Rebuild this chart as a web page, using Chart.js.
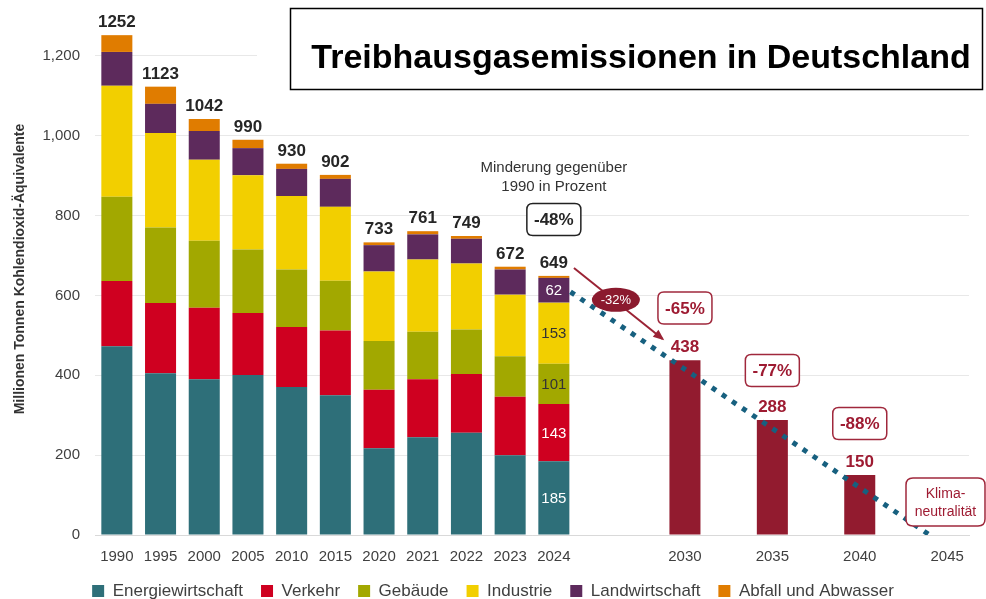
<!DOCTYPE html>
<html>
<head>
<meta charset="utf-8">
<script src="https://cdn.jsdelivr.net/npm/chart.js@4.4.1/dist/chart.umd.min.js"></script>
<style>
  html, body { margin: 0; padding: 0; background: #ffffff; }
  #wrap { width: 986px; height: 599px; position: relative; }
</style>
</head>
<body>
<div id="wrap"><canvas id="c" width="986" height="599"></canvas></div>
<script>
// ---- Data ----
const categories = ['1990','1995','2000','2005','2010','2015','2020','2021','2022','2023','2024','','','2030','','2035','','2040','','2045'];
const energiewirtschaft = [473, 405, 390, 401, 371, 350, 217, 245, 256, 200, 185];
const verkehr           = [163, 176, 179, 155, 150, 162, 147, 145, 147, 146, 143];
const gebaeude          = [211, 189, 168, 159, 144, 125, 122, 119, 112, 102, 101];
const industrie         = [278, 237, 203, 186, 184, 185, 174, 181, 165, 154, 153];
const landwirtschaft    = [ 85,  73,  72,  68,  68,  70,  66,  63,  62,  63,  62];
const abfall            = [ 42,  43,  30,  21,  13,  10,   7,   8,   7,   7,   5];
const zielwerte         = [null,null,null,null,null,null,null,null,null,null,null,null,null,438,null,288,null,150,null,null];
const pfad              = [{x: 10.38, y: 609}, {x: 18.6, y: 0}];
const minderung         = {'2024': '-48%', '2030': '-65%', '2035': '-77%', '2040': '-88%'};
const yTicks            = [0, 200, 400, 600, 800, 1000, 1200];

const FONT = '"Liberation Sans", Arial, sans-serif';
const pad = arr => categories.map((_, i) => (i < arr.length ? arr[i] : null));

const colors = {
  energie: '#2e6f79', verkehr: '#cf0020', gebaeude: '#a2a800',
  industrie: '#f2cf00', landw: '#5d2a5c', abfall: '#e07c00',
  ziel: '#921b2f', pfad: '#17607f', annot: '#9e1b32'
};

const sectors = [
  {label: 'Energiewirtschaft', data: energiewirtschaft, color: colors.energie, txt: '#ffffff'},
  {label: 'Verkehr', data: verkehr, color: colors.verkehr, txt: '#ffffff'},
  {label: 'Gebäude', data: gebaeude, color: colors.gebaeude, txt: '#333333'},
  {label: 'Industrie', data: industrie, color: colors.industrie, txt: '#333333'},
  {label: 'Landwirtschaft', data: landwirtschaft, color: colors.landw, txt: '#ffffff'},
  {label: 'Abfall und Abwasser', data: abfall, color: colors.abfall, txt: null}
];

const barOpts = { stack: 's', order: 1, barPercentage: 0.71, categoryPercentage: 1.0, grouped: false };
const datasets = sectors.map(s => Object.assign({
  type: 'bar', label: s.label, data: pad(s.data), backgroundColor: s.color
}, barOpts));
datasets.push(Object.assign({
  type: 'bar', label: 'Ziel', data: zielwerte, backgroundColor: colors.ziel
}, barOpts));
datasets.push({
  type: 'line', label: 'Pfad', data: pfad, xAxisID: 'xl', yAxisID: 'y',
  borderColor: colors.pfad, borderWidth: 5, borderDash: [5, 7.2], borderCapStyle: 'butt',
  pointRadius: 0, fill: false, order: 0, tension: 0
});

function roundRect(ctx, x, y, w, h, r) {
  ctx.beginPath();
  ctx.moveTo(x + r, y);
  ctx.lineTo(x + w - r, y); ctx.quadraticCurveTo(x + w, y, x + w, y + r);
  ctx.lineTo(x + w, y + h - r); ctx.quadraticCurveTo(x + w, y + h, x + w - r, y + h);
  ctx.lineTo(x + r, y + h); ctx.quadraticCurveTo(x, y + h, x, y + h - r);
  ctx.lineTo(x, y + r); ctx.quadraticCurveTo(x, y, x + r, y);
  ctx.closePath();
}

const annotPlugin = {
  id: 'annot',
  afterDraw(chart) {
    const ctx = chart.ctx;
    const xs = chart.scales.xl, ys = chart.scales.y;
    const px = i => xs.getPixelForValue(i);
    const py = v => ys.getPixelForValue(v);
    ctx.save();

    // white area behind the title (hides the 1200 gridline as in the reference)
    ctx.fillStyle = '#ffffff';
    ctx.fillRect(257, 0, 729, 94);
    // title box
    ctx.strokeStyle = '#000000'; ctx.lineWidth = 1.5;
    ctx.strokeRect(290.5, 8.5, 692, 81);
    ctx.fillStyle = '#000000';
    ctx.font = 'bold 34px ' + FONT;
    ctx.textAlign = 'center'; ctx.textBaseline = 'alphabetic';
    ctx.fillText('Treibhausgasemissionen in Deutschland', 641, 68);

    // y-axis title
    ctx.save();
    ctx.translate(20, 269);
    ctx.rotate(-Math.PI / 2);
    ctx.font = 'bold 14px ' + FONT;
    ctx.fillStyle = '#333333';
    ctx.textAlign = 'center'; ctx.textBaseline = 'middle';
    ctx.fillText('Millionen Tonnen Kohlendioxid-Äquivalente', 0, 0);
    ctx.restore();

    // totals above historical bars
    ctx.font = 'bold 17px ' + FONT;
    ctx.fillStyle = '#262626';
    ctx.textAlign = 'center'; ctx.textBaseline = 'alphabetic';
    for (let i = 0; i < energiewirtschaft.length; i++) {
      let t = 0; sectors.forEach(s => t += s.data[i]);
      ctx.fillText(String(t), px(i), py(t) - 8);
    }
    // target values
    ctx.fillStyle = colors.annot;
    zielwerte.forEach((v, i) => { if (v != null) ctx.fillText(String(v), px(i), py(v) - 8); });

    // inside labels for 2024
    const last = energiewirtschaft.length - 1;
    ctx.font = '15px ' + FONT; ctx.textBaseline = 'middle';
    let base = 0;
    sectors.forEach(s => {
      const v = s.data[last];
      if (s.txt) { ctx.fillStyle = s.txt; ctx.fillText(String(v), px(last), py(base + v / 2) + 1); }
      base += v;
    });

    // "Minderung gegenüber 1990 in Prozent"
    ctx.fillStyle = '#333333'; ctx.font = '15px ' + FONT;
    ctx.fillText('Minderung gegenüber', px(last), 168);
    ctx.fillText('1990 in Prozent', px(last), 187);

    // percentage boxes
    function pctBox(cx, cy, text, border, color) {
      const w = 54, h = 32;
      roundRect(ctx, cx - w / 2, cy - h / 2, w, h, 6);
      ctx.fillStyle = '#ffffff'; ctx.fill();
      ctx.lineWidth = 1.5; ctx.strokeStyle = border; ctx.stroke();
      ctx.fillStyle = color; ctx.font = 'bold 17px ' + FONT;
      ctx.textAlign = 'center'; ctx.textBaseline = 'middle';
      ctx.fillText(text, cx, cy + 1);
    }
    pctBox(px(10), 219.5, minderung['2024'], '#222222', '#262626');
    pctBox(px(13), 308, minderung['2030'], '#a0283c', colors.annot);
    pctBox(px(15), 370.5, minderung['2035'], '#a0283c', colors.annot);
    pctBox(px(17), 423.5, minderung['2040'], '#a0283c', colors.annot);

    // Klimaneutralität box
    roundRect(ctx, 906, 478, 79, 48, 7);
    ctx.fillStyle = '#ffffff'; ctx.fill();
    ctx.lineWidth = 1.5; ctx.strokeStyle = '#a0283c'; ctx.stroke();
    ctx.fillStyle = colors.annot; ctx.font = '14px ' + FONT;
    ctx.textAlign = 'center'; ctx.textBaseline = 'middle';
    ctx.fillText('Klima-', 945.5, 494);
    ctx.fillText('neutralität', 945.5, 512);

    // arrow from 2024 to 2030
    const ax1 = px(10.46), ay1 = py(669), ax2 = px(12.49), ay2 = py(491);
    ctx.strokeStyle = '#9b2335'; ctx.fillStyle = '#9b2335'; ctx.lineWidth = 2;
    ctx.beginPath(); ctx.moveTo(ax1, ay1); ctx.lineTo(ax2, ay2); ctx.stroke();
    const ang = Math.atan2(ay2 - ay1, ax2 - ax1);
    ctx.beginPath();
    ctx.moveTo(ax2 + 2 * Math.cos(ang), ay2 + 2 * Math.sin(ang));
    ctx.lineTo(ax2 - 9 * Math.cos(ang) + 4.5 * Math.sin(ang), ay2 - 9 * Math.sin(ang) - 4.5 * Math.cos(ang));
    ctx.lineTo(ax2 - 9 * Math.cos(ang) - 4.5 * Math.sin(ang), ay2 - 9 * Math.sin(ang) + 4.5 * Math.cos(ang));
    ctx.closePath(); ctx.fill();

    // -32% ellipse
    ctx.beginPath();
    ctx.ellipse(px(11.42), py(589), 24, 12, 0, 0, Math.PI * 2);
    ctx.fillStyle = '#8b1a2e'; ctx.fill();
    ctx.fillStyle = '#ffffff'; ctx.font = '13px ' + FONT;
    ctx.fillText('-32%', px(11.42), py(589) + 1);

    ctx.restore();
  }
};

new Chart(document.getElementById('c'), {
  data: { labels: categories, datasets },
  options: {
    responsive: false, animation: false,
    layout: { padding: { top: 16, right: 0, left: 0, bottom: 0 } },
    plugins: {
      tooltip: { enabled: false },
      legend: {
        position: 'bottom', maxHeight: 34.5,
        labels: {
          boxWidth: 12, boxHeight: 12, padding: 18, color: '#404040',
          font: { family: FONT, size: 17 },
          filter: item => item.text !== 'Ziel' && item.text !== 'Pfad'
        }
      }
    },
    scales: {
      x: {
        type: 'category', stacked: true,
        grid: { display: false },
        border: { display: true, color: '#d9d9d9', width: 1 },
        ticks: { color: '#404040', font: { family: FONT, size: 15 }, padding: 5, maxRotation: 0, autoSkip: false },
        afterFit: s => { s.height = 29.5; }
      },
      xl: { type: 'linear', display: false, min: -0.5, max: 19.5 },
      y: {
        stacked: true, min: 0, max: 1300,
        afterBuildTicks: s => { s.ticks = yTicks.map(v => ({ value: v })); },
        grid: { color: '#e8e8e8', lineWidth: 1, drawTicks: false },
        border: { display: false },
        ticks: { color: '#404040', font: { family: FONT, size: 15 }, padding: 15,
                 callback: v => v.toLocaleString('en-US') },
        afterFit: s => { s.width = 95; s.paddingTop = 0; s.paddingBottom = 0; }
      },
      yr: {
        position: 'right', display: true, min: 0, max: 1,
        grid: { display: false }, border: { display: false }, ticks: { display: false },
        afterFit: s => { s.width = 17; s.paddingTop = 0; s.paddingBottom = 0; }
      }
    }
  },
  plugins: [annotPlugin]
});
</script>
</body>
</html>
